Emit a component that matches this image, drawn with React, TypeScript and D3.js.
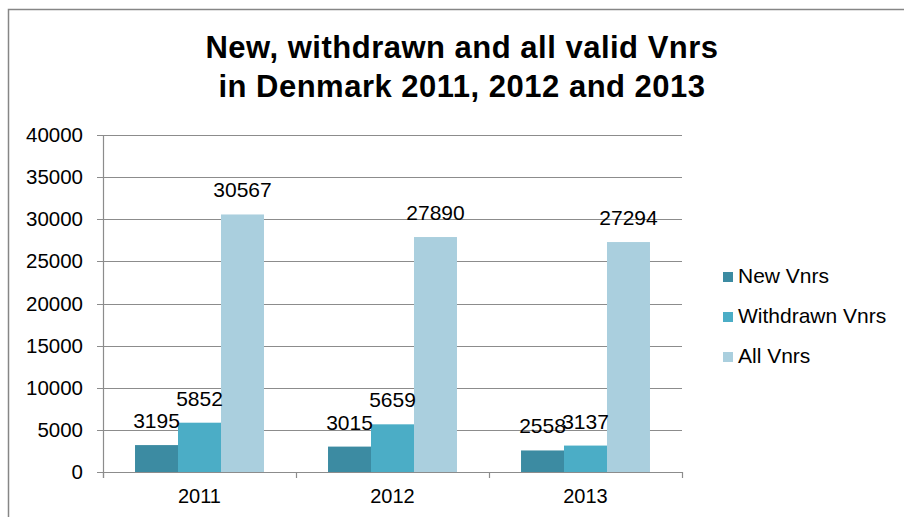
import * as d3 from 'd3';
import { useRef, useEffect } from 'react';

const years = ['2011', '2012', '2013'];
const seriesNames = ['New Vnrs', 'Withdrawn Vnrs', 'All Vnrs'];
const newVnrs = [3195, 3015, 2558];
const withdrawnVnrs = [5852, 5659, 3137];
const allVnrs = [30567, 27890, 27294];
const yTicks = [0, 5000, 10000, 15000, 20000, 25000, 30000, 35000, 40000];

const colors = ['#3c8ba2', '#4badc6', '#aacfde'];

export default function App() {
  const ref = useRef<SVGSVGElement>(null);

  useEffect(() => {
    const width = 904;
    const height = 517;
    const margin = { top: 135, right: 222, bottom: 45, left: 103 };
    const font = '"Liberation Sans", Arial, sans-serif';

    const svg = d3.select(ref.current)
      .attr('width', width)
      .attr('height', height);
    svg.selectAll('*').remove();

    // outer frame (runs off the right/bottom edge)
    svg.append('rect')
      .attr('x', 8.5).attr('y', 9.5)
      .attr('width', 1000).attr('height', 1000)
      .attr('fill', '#fff')
      .attr('stroke', '#868686')
      .attr('stroke-width', 1.5);

    // title
    const title = svg.append('text')
      .attr('text-anchor', 'middle')
      .attr('font-family', font)
      .attr('font-weight', 'bold')
      .attr('font-size', 31)
      .attr('letter-spacing', 0.5)
      .attr('fill', '#000');
    title.append('tspan').attr('x', 462).attr('y', 58).text('New, withdrawn and all valid Vnrs');
    title.append('tspan').attr('x', 462).attr('y', 97).text('in Denmark 2011, 2012 and 2013');

    const x0 = margin.left;
    const x1 = width - margin.right;
    const y0 = height - margin.bottom;

    const x = d3.scaleBand().domain(years).range([x0, x1]).paddingInner(0).paddingOuter(0);
    const inner = d3.scaleBand().domain(seriesNames).range([0, x.bandwidth()]).paddingOuter(0.745).paddingInner(0);
    const y = d3.scaleLinear().domain([0, 40000]).range([y0, margin.top]);

    // gridlines + y ticks
    const g = svg.append('g');
    yTicks.forEach(t => {
      g.append('line')
        .attr('x1', x0 - 6).attr('x2', x1)
        .attr('y1', Math.round(y(t)) + 0.5).attr('y2', Math.round(y(t)) + 0.5)
        .attr('stroke', '#8c8c8c').attr('stroke-width', 1.2);
      g.append('text')
        .attr('x', 83).attr('y', y(t) + 7)
        .attr('text-anchor', 'end')
        .attr('font-family', font).attr('font-size', 20.5)
        .attr('fill', '#000')
        .text(t);
    });

    // y axis line
    g.append('line')
      .attr('x1', x0 + 0.5).attr('x2', x0 + 0.5)
      .attr('y1', margin.top).attr('y2', y0 + 6)
      .attr('stroke', '#8c8c8c').attr('stroke-width', 1.2);

    // category ticks
    [...years.map(d => x(d) as number), x1].forEach(px => {
      g.append('line')
        .attr('x1', Math.round(px) + 0.5).attr('x2', Math.round(px) + 0.5)
        .attr('y1', y0).attr('y2', y0 + 6)
        .attr('stroke', '#8c8c8c').attr('stroke-width', 1.2);
    });

    const data = [newVnrs, withdrawnVnrs, allVnrs];

    // bars
    data.forEach((vals, si) => {
      vals.forEach((v, i) => {
        const bx = (x(years[i]) as number) + (inner(seriesNames[si]) as number);
        svg.append('rect')
          .attr('x', bx).attr('y', y(v))
          .attr('width', inner.bandwidth()).attr('height', y0 - y(v))
          .attr('fill', colors[si]);
      });
    });

    // labels
    data.forEach((vals, si) => {
      vals.forEach((v, i) => {
        const cx = (x(years[i]) as number) + (inner(seriesNames[si]) as number) + inner.bandwidth() / 2;
        svg.append('text')
          .attr('x', cx).attr('y', y(v) - 17)
          .attr('text-anchor', 'middle')
          .attr('font-family', font).attr('font-size', 21)
          .attr('fill', '#000')
          .text(v);
      });
    });

    // x labels
    years.forEach(yr => {
      svg.append('text')
        .attr('x', (x(yr) as number) + x.bandwidth() / 2)
        .attr('y', 503)
        .attr('text-anchor', 'middle')
        .attr('font-family', font).attr('font-size', 20)
        .attr('fill', '#000')
        .text(yr);
    });

    // legend
    seriesNames.forEach((name, i) => {
      const ly = 283 + i * 40;
      svg.append('rect')
        .attr('x', 723).attr('y', ly - 11)
        .attr('width', 10).attr('height', 10)
        .attr('fill', colors[i]);
      svg.append('text')
        .attr('x', 738).attr('y', ly)
        .attr('font-family', font).attr('font-size', 21)
        .attr('fill', '#000')
        .text(name);
    });
  }, []);

  return <svg ref={ref} style={{ position: 'absolute', left: 0, top: 0 }}></svg>;
}
